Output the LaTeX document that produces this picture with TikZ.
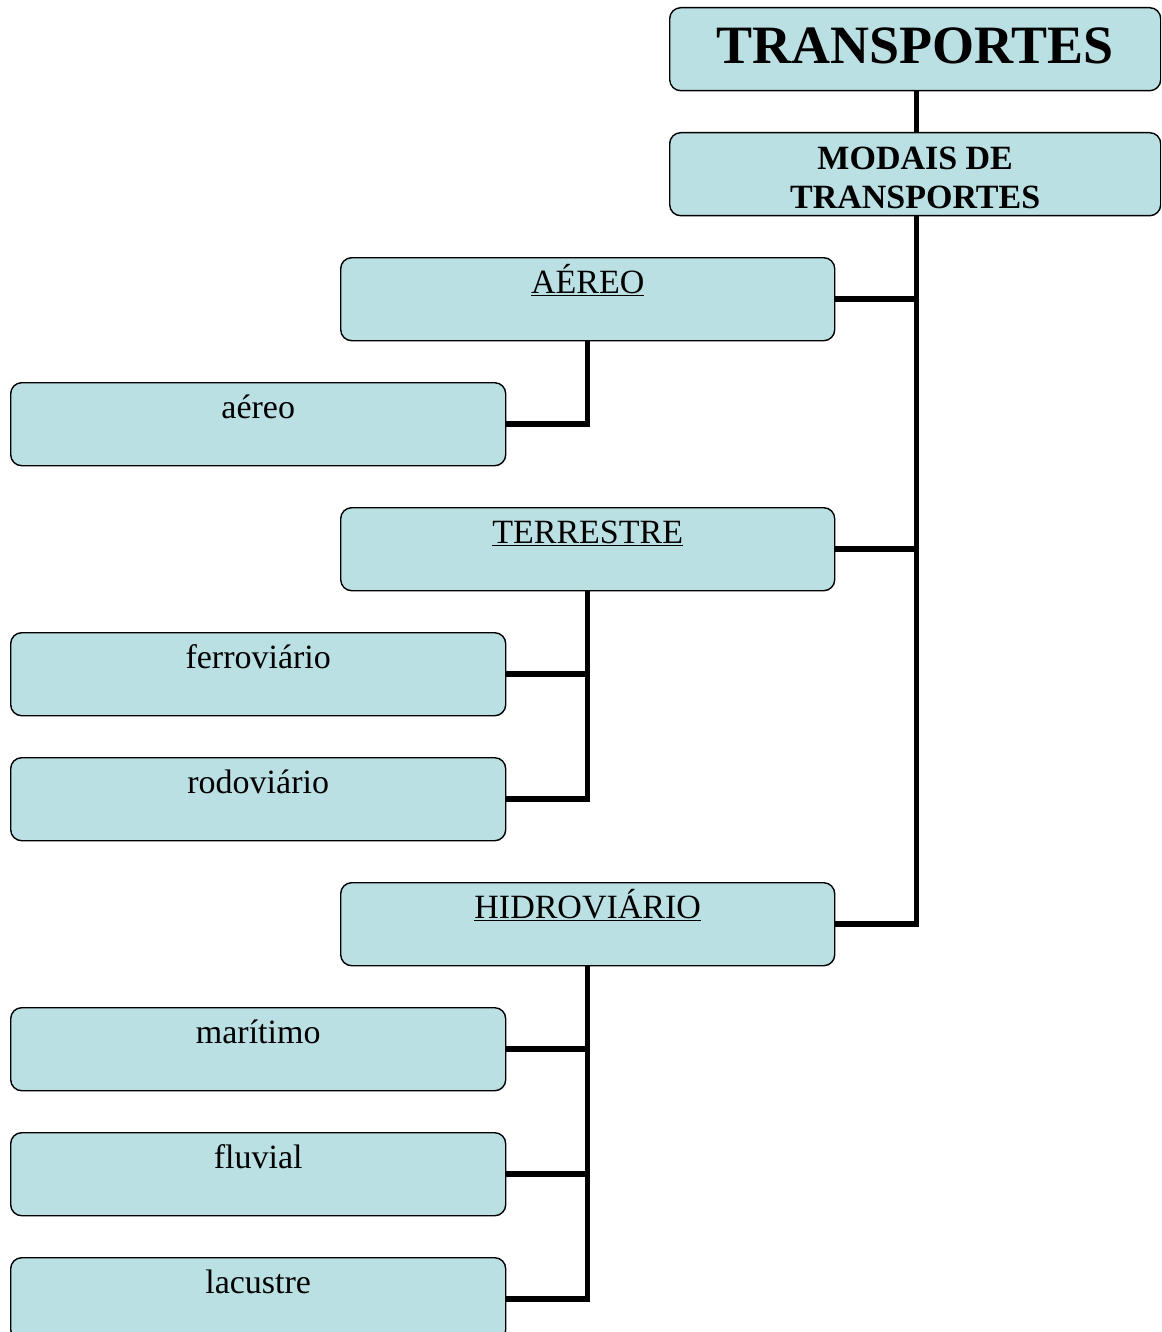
\documentclass[tikz,border=0pt]{standalone}
\usepackage{fontspec}
\setmainfont{Liberation Serif}
\usetikzlibrary{backgrounds}
\definecolor{boxfill}{RGB}{186,224,227}
\begin{document}
\begin{tikzpicture}[x=1pt,y=-1pt,
  basebox/.style={draw=black, line width=1.4pt, fill=boxfill, rounded corners=11pt,
    inner sep=0pt, anchor=north west, minimum height=83pt},
  topbox/.style={basebox, minimum width=491pt},
  midbox/.style={basebox, minimum width=494pt, font=\fontsize{34}{39}\selectfont,
    text height=36pt, text depth=47pt},
  leafbox/.style={basebox, minimum width=495pt, font=\fontsize{34}{39}\selectfont,
    text height=36pt, text depth=47pt},
  link/.style={line width=5.5pt, draw=black}]
\clip (0,0) rectangle (1161,1332);
\useasboundingbox (0,0) rectangle (1161,1332);

% root and modal header
\node[topbox, font=\bfseries\fontsize{54}{60}\selectfont, text height=56pt, text depth=27pt]
  (transp) at (669,7) {TRANSPORTES};
\node[topbox] (modais) at (669,132) {};
\node[font=\bfseries\fontsize{34}{39}\selectfont, align=center, anchor=base, inner sep=0pt]
  (modaistxt) at (modais.north |- 0,209) {MODAIS DE\\TRANSPORTES};

% modal groups
\node[midbox] (aereoH) at (340,257) {\underline{AÉREO}};
\node[midbox] (terrH) at (340,507) {\underline{TERRESTRE}};
\node[midbox] (hidroH) at (340,882) {\underline{HIDROVIÁRIO}};

% individual modes
\node[leafbox] (aereo) at (10,382) {aéreo};
\node[leafbox] (ferro) at (10,632) {ferroviário};
\node[leafbox] (rodo) at (10,757) {rodoviário};
\node[leafbox] (mari) at (10,1007) {marítimo};
\node[leafbox] (fluv) at (10,1132) {fluvial};
\node[leafbox] (lacu) at (10,1257) {lacustre};

\begin{scope}[on background layer]
  \draw[link] ([xshift=1.5pt]transp.south) -- ([xshift=1.5pt]modais.north);
  \draw[link] ([xshift=1.5pt]modais.south) |- (aereoH.east);
  \draw[link] ([xshift=1.5pt]modais.south) |- (terrH.east);
  \draw[link] ([xshift=1.5pt]modais.south) |- (hidroH.east);
  \draw[link] (aereoH.south) |- (aereo.east);
  \draw[link] (terrH.south) |- (ferro.east);
  \draw[link] (terrH.south) |- (rodo.east);
  \draw[link] (hidroH.south) |- (mari.east);
  \draw[link] (hidroH.south) |- (fluv.east);
  \draw[link] (hidroH.south) |- (lacu.east);
\end{scope}
\end{tikzpicture}
\end{document}
